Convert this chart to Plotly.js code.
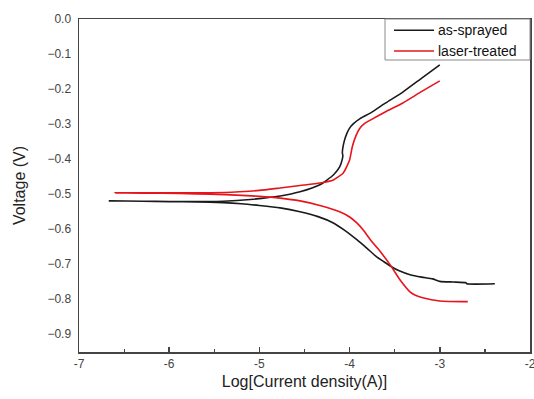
<!DOCTYPE html>
<html>
<head>
<meta charset="utf-8">
<script src="https://cdn.plot.ly/plotly-3.0.1.min.js"></script>
<style>html,body{margin:0;padding:0;background:#fff;}#chart{width:534px;height:399px;}</style>
</head>
<body>
<div id="chart"></div>
<script>
// as-sprayed: cathodic end -> Ecorr tail -> anodic end
var sprayedX = [-2.39, -2.70, -2.71, -2.85, -3.00, -3.08, -3.20, -3.33, -3.45, -3.55, -3.62, -3.70, -3.81, -3.92, -4.05, -4.18, -4.35, -4.55, -4.77, -5.00, -5.20, -5.40, -5.70, -6.00, -6.30, -6.67, -6.30, -6.00, -5.70, -5.40, -5.10, -4.77, -4.55, -4.33, -4.18, -4.11, -4.08, -4.075, -4.08, -4.06, -4.03, -4.00, -3.96, -3.88, -3.77, -3.60, -3.41, -3.20, -3.00];
var sprayedY = [-0.757, -0.757, -0.754, -0.752, -0.750, -0.743, -0.738, -0.731, -0.720, -0.706, -0.694, -0.680, -0.655, -0.631, -0.605, -0.583, -0.565, -0.551, -0.540, -0.533, -0.528, -0.525, -0.523, -0.522, -0.521, -0.520, -0.521, -0.522, -0.522, -0.521, -0.516, -0.506, -0.494, -0.474, -0.446, -0.423, -0.400, -0.390, -0.383, -0.350, -0.327, -0.312, -0.300, -0.284, -0.269, -0.240, -0.209, -0.169, -0.131];

// laser-treated
var laserX = [-2.69, -3.00, -3.19, -3.27, -3.33, -3.44, -3.55, -3.66, -3.77, -3.84, -3.92, -4.00, -4.11, -4.33, -4.55, -4.77, -5.00, -5.38, -5.70, -6.07, -6.30, -6.60, -6.30, -6.07, -5.70, -5.38, -5.22, -5.00, -4.77, -4.55, -4.33, -4.18, -4.07, -4.00, -3.97, -3.93, -3.89, -3.84, -3.77, -3.60, -3.41, -3.20, -3.00];
var laserY = [-0.808, -0.806, -0.797, -0.790, -0.780, -0.746, -0.703, -0.665, -0.631, -0.606, -0.583, -0.566, -0.551, -0.533, -0.520, -0.512, -0.507, -0.502, -0.500, -0.498, -0.498, -0.497, -0.497, -0.497, -0.497, -0.496, -0.494, -0.490, -0.483, -0.476, -0.469, -0.460, -0.440, -0.403, -0.365, -0.334, -0.314, -0.300, -0.289, -0.265, -0.240, -0.207, -0.177];

var seriesNames = ["as-sprayed", "laser-treated"];
var seriesColors = ["#1a1a1a", "#e8141c"];
var xTickVals = [-7, -6, -5, -4, -3, -2];
var yTickVals = [0, -0.1, -0.2, -0.3, -0.4, -0.5, -0.6, -0.7, -0.8, -0.9];

var font = "Liberation Sans, Arial, sans-serif";

var traces = [
  {x: sprayedX, y: sprayedY, name: seriesNames[0], mode: "lines", type: "scatter",
   line: {color: seriesColors[0], width: 1.6, shape: "spline", smoothing: 0.5}},
  {x: laserX, y: laserY, name: seriesNames[1], mode: "lines", type: "scatter",
   line: {color: seriesColors[1], width: 1.6, shape: "spline", smoothing: 0.5}}
];

// legend box drawn in paper coordinates (top-right, inside plot)
var legX0 = 0.6785, legX1 = 1, legY0 = 0.8769, legY1 = 1;
var legRowY = [0.9663, 0.9039];
var legLineX = [0.6984, 0.7871];
var legTextX = 0.7916;

var shapes = [{type: "rect", xref: "paper", yref: "paper", x0: legX0, x1: legX1, y0: legY0, y1: legY1,
  line: {color: "#8a8a8a", width: 1}, fillcolor: "#fff", layer: "above"}];
var annotations = [];
for (var i = 0; i < seriesNames.length; i++) {
  shapes.push({type: "line", xref: "paper", yref: "paper", x0: legLineX[0], x1: legLineX[1],
    y0: legRowY[i], y1: legRowY[i], line: {color: seriesColors[i], width: 1.6}, layer: "above"});
  annotations.push({xref: "paper", yref: "paper", x: legTextX, y: legRowY[i], xanchor: "left", yanchor: "middle",
    text: seriesNames[i], showarrow: false, font: {family: font, size: 14, color: "#111"}});
}

var layout = {
  width: 534, height: 399,
  margin: {l: 79, r: 4, t: 19, b: 47, pad: 0},
  paper_bgcolor: "#fff", plot_bgcolor: "#fff",
  font: {family: font, size: 12, color: "#444"},
  showlegend: false,
  shapes: shapes,
  annotations: annotations,
  xaxis: {
    range: [-7, -2], tickvals: xTickVals, ticktext: xTickVals.map(String),
    ticks: "inside", ticklen: 5, tickwidth: 1.5, tickcolor: "#444",
    minor: {dtick: 0.5, ticks: "inside", ticklen: 3, tickwidth: 1.2, tickcolor: "#444", showgrid: false},
    showgrid: false, zeroline: false,
    showline: true, linecolor: "#444", linewidth: 1.5, mirror: true,
    tickfont: {family: font, size: 12, color: "#444"},
    ticklabeloverflow: "allow",
    title: {text: "Log[Current density(A)]", font: {family: font, size: 16, color: "#222"}, standoff: 6},
    automargin: false
  },
  yaxis: {
    range: [-0.952, 0], tickvals: yTickVals, tickformat: ".1f",
    ticks: "", showgrid: false, zeroline: false,
    showline: true, linecolor: "#444", linewidth: 1.5, mirror: true,
    tickfont: {family: font, size: 12, color: "#444"},
    ticklabelstandoff: 4,
    title: {text: "Voltage (V)", font: {family: font, size: 16, color: "#222"}, standoff: 18},
    automargin: false
  }
};

Plotly.newPlot("chart", traces, layout, {displayModeBar: false, staticPlot: true});
</script>
</body>
</html>
